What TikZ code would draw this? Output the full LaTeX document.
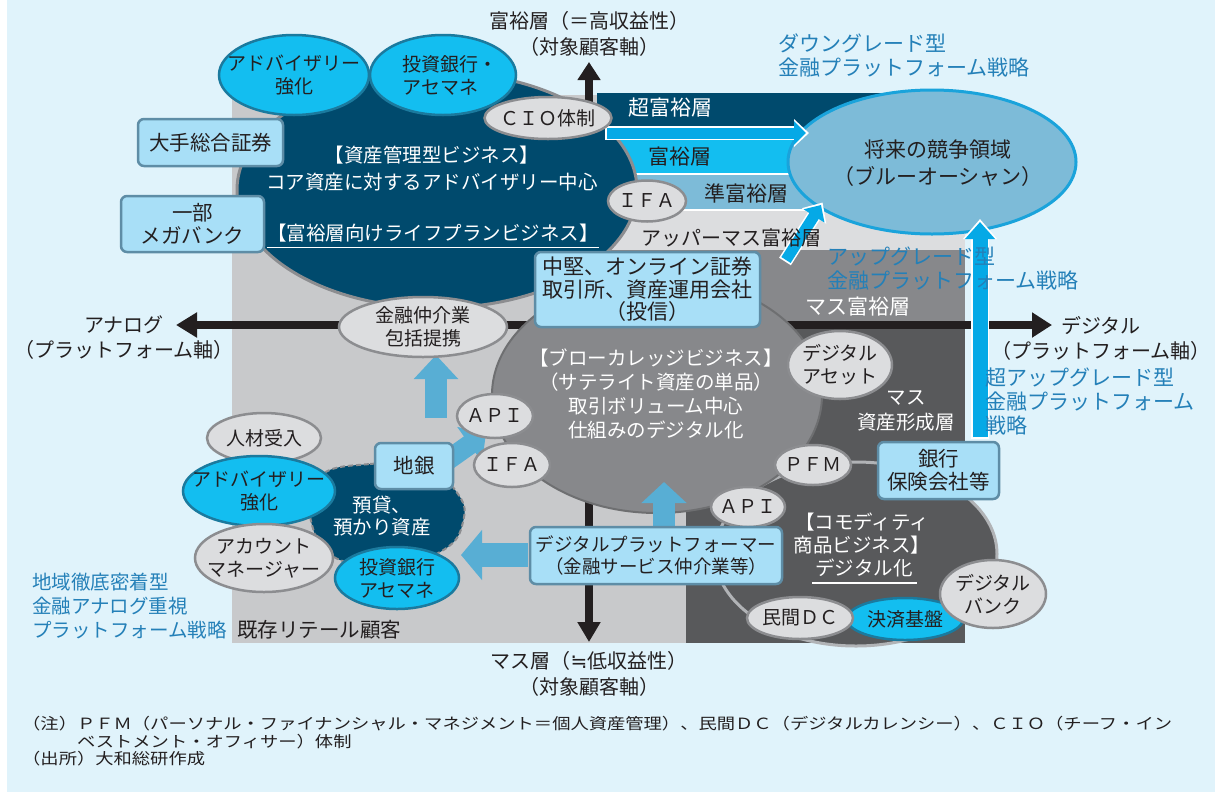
\documentclass[tikz,border=0pt]{standalone}
\usepackage{fontspec}
\setmainfont{Noto Sans CJK JP}
\newfontfamily\notefont[FakeStretch=1.18]{Noto Sans CJK JP}
\newfontfamily\approxfont{DejaVu Sans}
\usetikzlibrary{shapes.geometric,arrows.meta}
\newcommand\fsz[2]{\fontsize{#1}{#2}\selectfont}
\definecolor{bgblue}{HTML}{E0F3FB}
\definecolor{lgray}{HTML}{C8C9CB}
\definecolor{navyc}{HTML}{004A6D}
\definecolor{cyanb}{HTML}{13BEF0}
\definecolor{arrowcyan}{HTML}{05A9E6}
\definecolor{steel}{HTML}{7DBBD8}
\definecolor{pgray}{HTML}{DCDDDF}
\definecolor{mgray}{HTML}{87888B}
\definecolor{dgray}{HTML}{58595B}
\definecolor{ringgray}{HTML}{B1B3B6}
\definecolor{edgegray}{HTML}{8C8D90}
\definecolor{darkedge}{HTML}{6E6F71}
\definecolor{boxfill}{HTML}{A8DFF7}
\definecolor{boxedge}{HTML}{5E8DA6}
\definecolor{cyanedge}{HTML}{1B7A9E}
\definecolor{arrowblue}{HTML}{58AED4}
\definecolor{stratblue}{HTML}{2480B8}
\definecolor{ink}{HTML}{231F20}
\definecolor{oceanedge}{HTML}{1AA3DB}
\newcommand\ovalnode[6]{%
  \node[#1, minimum width=#4pt, minimum height=#5pt] (#2) at (#3) {};
  \node[lbl] (#2-t) at (#2.center) {#6};}
\begin{document}
\begin{tikzpicture}[x=1pt,y=-1pt,
  lbl/.style={font={\fsz{19}{23}}, text=ink, align=center, inner sep=0pt},
  gell/.style={ellipse, fill=pgray, draw=edgegray, line width=2.5pt, inner sep=0pt},
  cell/.style={ellipse, fill=cyanb, draw=cyanedge, line width=2.5pt, inner sep=0pt},
  lbox/.style={rounded corners=6pt, fill=boxfill, draw=boxedge, line width=2.5pt, inner sep=0pt, font={\fsz{20.5}{23}}, text=ink, align=center},
  wtxt/.style={text=white, font={\fsz{19.5}{24}}, align=center, inner sep=0pt},
  band/.style={font={\fsz{21}{24}}, inner sep=0pt},
  strat/.style={text=stratblue, font={\fsz{21}{24}}, align=left, inner sep=0pt, anchor=west},
  axislbl/.style={font={\fsz{20}{25.5}}, text=ink, align=center, inner sep=0pt},
  blackarrow/.style={draw=ink, line width=8pt},
  notetxt/.style={font={\notefont\fsz{15.5}{17.5}}, text=ink, align=left, inner sep=0pt, anchor=west}
]
\useasboundingbox (0,0) rectangle (1215,793);
\fill[white] (0,0) rectangle (1215,793);
\fill[bgblue] (7,0) rectangle (1215,792);
% market area
\fill[lgray] (232,95) rectangle (965,643);
\fill[navyc] (597,93) rectangle (930,140);
\fill[cyanb] (560,140) rectangle (930,174);
\fill[steel] (560,174) rectangle (930,210);
\fill[pgray] (560,210) rectangle (965,250);
\fill[mgray] (600,250) rectangle (965,325);
\fill[dgray] (686,325) rectangle (965,643);
\draw[white, line width=2pt] (560,174) -- (930,174);
\draw[white, line width=2.5pt] (560,210) -- (930,210);
% axes
\coordinate (axL) at (176,325); \coordinate (axR) at (1052,325);
\coordinate (axT) at (589,62);  \coordinate (axB) at (589,642);
\draw[blackarrow, {Triangle[length=21pt,width=24pt]}-{Triangle[length=20pt,width=24pt]}] (axL) -- (axR);
\draw[blackarrow, {Triangle[length=18pt,width=22pt]}-{Triangle[length=20pt,width=22pt]}] (axT) -- (axB);
% big regions
\filldraw[fill=navyc, draw=edgegray, line width=3pt] (437,190) ellipse [x radius=200pt, y radius=118pt];
\filldraw[fill=dgray, draw=ringgray, line width=3pt] (856,554) ellipse [x radius=141pt, y radius=92pt];
\filldraw[fill=mgray, draw=darkedge, line width=2pt] (657,395) ellipse [x radius=165pt, y radius=118pt];
\filldraw[fill=steel, draw=oceanedge, line width=3pt] (932,162) ellipse [x radius=144pt, y radius=72pt];
% cyan strategy arrows
\coordinate (c1a) at (607,133); \coordinate (c1b) at (806,133);
\draw[white, line width=14pt, -{Triangle[length=15pt,width=27pt]}] (604.5,133) -- (809,133);
\draw[arrowcyan, line width=11pt, -{Triangle[length=12pt,width=23pt]}] (c1a) -- (c1b);
\coordinate (c2a) at (786,260); \coordinate (c2b) at (821,205);
\draw[white, line width=14pt, -{Triangle[length=16pt,width=28pt]}] (785,261.5) -- (822.6,202.5);
\draw[arrowcyan, line width=11pt, -{Triangle[length=13pt,width=24pt]}] (c2a) -- (c2b);
\coordinate (c3a) at (980,437); \coordinate (c3b) at (980,222);
\draw[white, line width=18pt, -{Triangle[length=20pt,width=33pt]}] (980,438.5) -- (980,219);
\draw[arrowcyan, line width=15pt, -{Triangle[length=17pt,width=29pt]}] (c3a) -- (c3b);
% steel-blue block arrows
\coordinate (s1a) at (436,418); \coordinate (s1b) at (436,355);
\draw[arrowblue, line width=22pt, -{Triangle[length=24pt,width=43pt]}] (s1a) -- (s1b);
\coordinate (s2a) at (438,467); \coordinate (s2b) at (486,433);
\draw[arrowblue, line width=20pt, -{Triangle[length=20pt,width=42pt]}] (s2a) -- (s2b);
\coordinate (s3a) at (664,528); \coordinate (s3b) at (664,482);
\draw[arrowblue, line width=22pt, -{Triangle[length=21pt,width=44pt]}] (s3a) -- (s3b);
\coordinate (s4a) at (528,555); \coordinate (s4b) at (461,555);
\draw[arrowblue, line width=24pt, -{Triangle[length=21pt,width=49pt]}] (s4a) -- (s4b);
% regional blob
\filldraw[fill=navyc, draw=edgegray, line width=2pt, dash pattern=on 5pt off 3pt]
  plot[smooth cycle, tension=0.75] coordinates {(318,478) (370,464) (425,468) (458,494) (463,522) (445,549) (400,563) (340,560) (312,525)};
% top-left nodes
\ovalnode{cell}{adv1}{294,75}{150}{80}{アドバイザリー\\強化}
\node[cell, minimum width=146pt, minimum height=80pt] (ib1) at (443,75) {};
\node[lbl, align=left] (ib1-t) at (450,75) {投資銀行・\\アセマネ};
\ovalnode{gell}{cio}{548,118}{127}{42}{ＣＩＯ体制}
\ovalnode{gell}{ifa1}{647,201}{78}{41}{ＩＦＡ}
\node[lbox, minimum width=145pt, minimum height=47pt] (oote) at (210.5,142.5) {大手総合証券};
\node[lbox, minimum width=143pt, minimum height=56pt] (mega) at (192.5,224) {一部\\メガバンク};
\ovalnode{gell}{kinyu}{423,327}{168}{60}{金融仲介業\\包括提携}
\node[lbox, minimum width=225pt, minimum height=75pt, font={\fsz{21}{22.5}}] (chuken) at (647.5,289.5) {中堅、オンライン証券\\取引所、資産運用会社\\（投信）};
% left-bottom nodes
\ovalnode{gell}{jinzai}{264,438}{114}{50}{人材受入}
\ovalnode{cell}{adv2}{259,491}{152}{70}{アドバイザリー\\強化}
\ovalnode{gell}{acct}{264,558}{138}{68}{アカウント\\マネージャー}
\ovalnode{cell}{ib2}{397,578}{124}{62}{投資銀行\\アセマネ}
\node[lbox, minimum width=78pt, minimum height=46pt] (chigin) at (414,466) {地銀};
\ovalnode{gell}{api1}{495,416}{76}{44}{ＡＰＩ}
\ovalnode{gell}{ifa2}{512,465}{76}{44}{ＩＦＡ}
% right-bottom nodes
\ovalnode{gell}{dasset}{840,365}{104}{68}{デジタル\\アセット}
\ovalnode{gell}{pfm}{813,465}{76}{40}{ＰＦＭ}
\node[lbox, minimum width=121pt, minimum height=57pt] (ginko) at (938.5,470.5) {銀行\\保険会社等};
\ovalnode{gell}{api2}{748,507}{74}{40}{ＡＰＩ}
\node[lbox, minimum width=252pt, minimum height=57pt, font={\fsz{18.5}{21.5}}] (dp) at (656,555.5) {デジタルプラットフォーマー\\（金融サービス仲介業等）};
\ovalnode{cell}{kessai}{905,619}{116}{42}{決済基盤}
\ovalnode{gell}{mdc}{800,618}{106}{42}{民間ＤＣ}
\ovalnode{gell}{dbank}{993,594}{106}{68}{デジタル\\バンク}
% texts in regions
\node[wtxt, font={\fsz{19.5}{27}}] (asset) at (432,168.5) {【資産管理型ビジネス】\\コア資産に対するアドバイザリー中心};
\node[wtxt] (lifeplan) at (433,233) {【富裕層向けライフプランビジネス】};
\draw[white, line width=1.2pt] ([yshift=-5pt]lifeplan.south west) -- ([yshift=-5pt]lifeplan.south east);
\node[wtxt] (broker) at (656,394) {【ブローカレッジビジネス】\\（サテライト資産の単品）\\取引ボリューム中心\\仕組みのデジタル化};
\node[wtxt, font={\fsz{19.5}{23}}] (comm) at (862,533.5) {【コモディティ\\商品ビジネス】};
\node[wtxt] (digi) at (864,568) {デジタル化};
\draw[white, line width=1.2pt] (812,583) -- (917,583);
\node[wtxt, font={\fsz{19.5}{25}}] (masslayer) at (906,410.5) {マス\\資産形成層};
\node[wtxt, font={\fsz{19.5}{22}}] (deposit) at (382,516) {預貸、\\預かり資産};
\node[axislbl, font={\fsz{21}{27}}] (ocean) at (938,163.5) {将来の競争領域\\（ブルーオーシャン）};
% band labels
\node[band, text=white] (b1) at (670,108) {超富裕層};
\node[band, text=ink] (b2) at (680,157) {富裕層};
\node[band, text=ink] (b3) at (746,193) {準富裕層};
\node[band, text=ink, font={\fsz{20}{24}}] (b4) at (731,238) {アッパーマス富裕層};
\node[band, text=white] (b5) at (858,307) {マス富裕層};
% strategy texts
\node[strat] (down) at (778,55) {ダウングレード型\\金融プラットフォーム戦略};
\node[strat] (up) at (827,268.5) {アップグレード型\\金融プラットフォーム戦略};
\node[strat] (superup) at (985,401.5) {超アップグレード型\\金融プラットフォーム\\戦略};
\node[strat, font={\fsz{19.5}{24}}] (local) at (32,606) {地域徹底密着型\\金融アナログ重視\\プラットフォーム戦略};
\node[band, text=ink, anchor=west, font={\fsz{20.5}{24}}] (retail) at (237,630) {既存リテール顧客};
% axis labels
\node[axislbl] (topax) at (589,34) {富裕層（＝高収益性）\\（対象顧客軸）};
\node[axislbl] (botax) at (589,674) {マス層（{\approxfont ≒}低収益性）\\（対象顧客軸）};
\node[axislbl] (leftax) at (124,337.5) {アナログ\\（プラットフォーム軸）};
\node[axislbl] (rightax) at (1101,338.5) {デジタル\\（プラットフォーム軸）};
% notes
\node[notetxt] (note1) at (22,732.5) {（注）ＰＦＭ（パーソナル・ファイナンシャル・マネジメント＝個人資産管理）、民間ＤＣ（デジタルカレンシー）、ＣＩＯ（チーフ・イン\\\hspace*{55pt}ベストメント・オフィサー）体制};
\node[notetxt] (note2) at (22,759) {（出所）大和総研作成};
\end{tikzpicture}
\end{document}
